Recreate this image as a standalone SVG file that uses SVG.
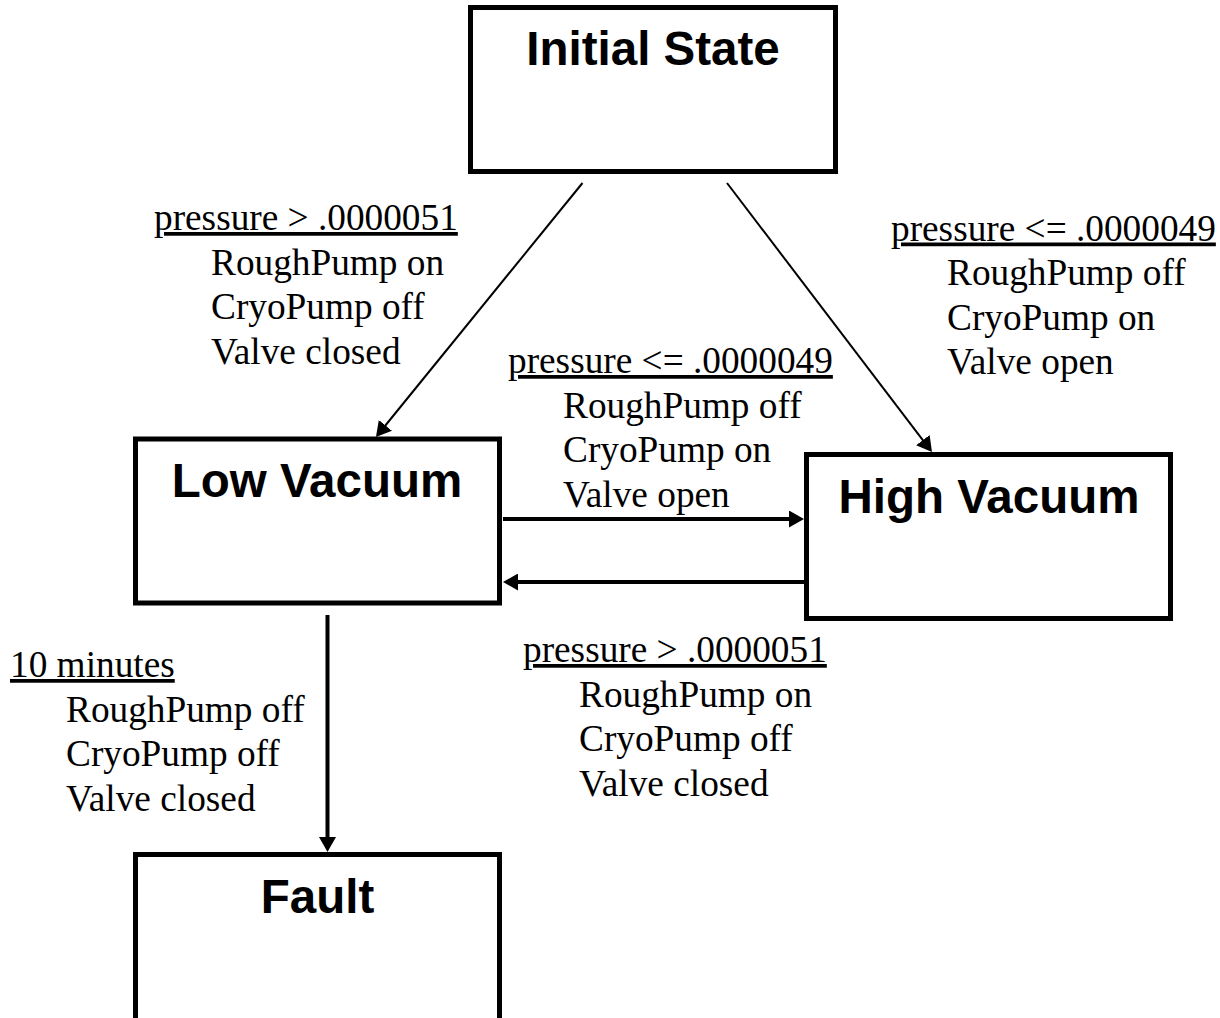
<svg xmlns="http://www.w3.org/2000/svg" width="1220" height="1018" viewBox="0 0 1220 1018">
<style>
.box{fill:#fff;stroke:#000;stroke-width:5}
.title{font-family:"Liberation Sans",Arial,sans-serif;font-weight:bold;font-size:47.5px;text-anchor:middle;fill:#000}
.lbl{font-family:"Liberation Serif","Times New Roman",serif;font-size:37.3px;fill:#000}
.u{text-decoration:underline}
.thin{stroke:#000;stroke-width:2;fill:none}
.thick{stroke:#000;stroke-width:4;fill:none}
</style>
<defs>
<marker id="arr" viewBox="0 0 15 17" refX="4" refY="8.5" markerWidth="15" markerHeight="17" markerUnits="userSpaceOnUse" orient="auto">
<path d="M0,0 L15,8.5 L0,17 z" fill="#000"/>
</marker>
</defs>
<rect width="1220" height="1018" fill="#fff"/>
<g id="initial">
<rect class="box" x="470.5" y="7.5" width="365" height="164"/>
<text class="title" x="653" y="65">Initial State</text>
</g>
<g id="low">
<rect class="box" x="135.5" y="439" width="364" height="164"/>
<text class="title" x="317" y="497">Low Vacuum</text>
</g>
<g id="high">
<rect class="box" x="806.5" y="454.5" width="364" height="164"/>
<text class="title" x="989" y="513">High Vacuum</text>
</g>
<g id="fault">
<rect class="box" x="135.5" y="854.5" width="364" height="200"/>
<text class="title" x="317.5" y="913">Fault</text>
</g>
<g id="connectors">
<line class="thin" x1="582.5" y1="183" x2="382.9" y2="428.5" marker-end="url(#arr)"/>
<line class="thin" x1="727" y1="183" x2="925.3" y2="443.3" marker-end="url(#arr)"/>
<line class="thick" x1="503" y1="519" x2="793" y2="519" marker-end="url(#arr)"/>
<line class="thick" x1="804" y1="582" x2="514" y2="582" marker-end="url(#arr)"/>
<line class="thick" x1="327.5" y1="615" x2="327.5" y2="841" marker-end="url(#arr)"/>
</g>
<g id="labels">
<text class="lbl"><tspan class="u" x="154" y="230">pressure &gt; .0000051</tspan><tspan x="211" y="274.5">RoughPump on</tspan><tspan x="211" y="319">CryoPump off</tspan><tspan x="211" y="363.5">Valve closed</tspan></text>
<text class="lbl"><tspan class="u" x="891" y="240.5">pressure &lt;= .0000049</tspan><tspan x="947" y="285">RoughPump off</tspan><tspan x="947" y="329.5">CryoPump on</tspan><tspan x="947" y="374">Valve open</tspan></text>
<text class="lbl"><tspan class="u" x="508" y="373">pressure &lt;= .0000049</tspan><tspan x="563" y="417.5">RoughPump off</tspan><tspan x="563" y="462">CryoPump on</tspan><tspan x="563" y="506.5">Valve open</tspan></text>
<text class="lbl"><tspan class="u" x="523" y="662">pressure &gt; .0000051</tspan><tspan x="579" y="706.5">RoughPump on</tspan><tspan x="579" y="751">CryoPump off</tspan><tspan x="579" y="795.5">Valve closed</tspan></text>
<text class="lbl"><tspan class="u" x="10" y="677">10 minutes</tspan><tspan x="66" y="721.5">RoughPump off</tspan><tspan x="66" y="766">CryoPump off</tspan><tspan x="66" y="810.5">Valve closed</tspan></text>
</g>
</svg>
